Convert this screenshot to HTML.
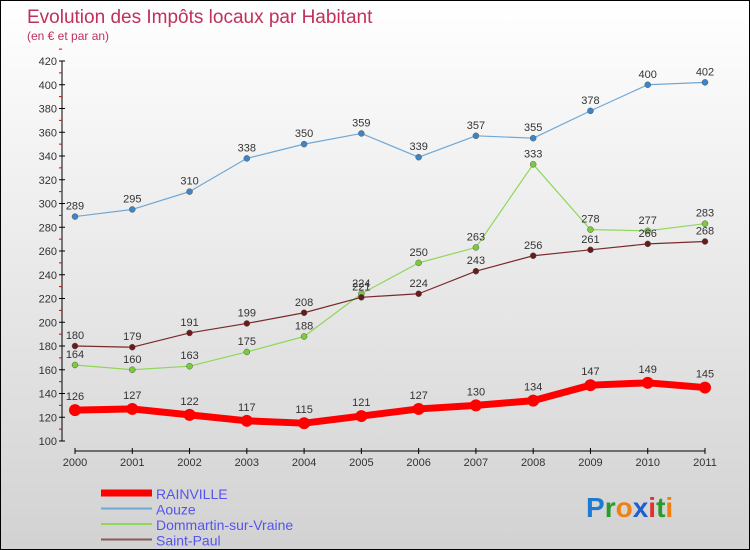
<!DOCTYPE html>
<html><head><meta charset="utf-8"><style>
body{margin:0}
#c{width:748px;height:548px;border:1px solid #000;background:linear-gradient(#fff,#d2d2d2);position:relative;font-family:"Liberation Sans",sans-serif;overflow:hidden}
</style></head><body>
<div id="c">
<svg id="s" width="748" height="548" style="position:absolute;left:0;top:0">
<text x="26" y="22" font-size="19" fill="#c0305a">Evolution des Impôts locaux par Habitant</text>
<text x="26" y="39" font-size="12" fill="#c0305a">(en € et par an)</text>
<g id="g"></g>
<text x="585" y="516" font-size="28" font-weight="bold"><tspan fill="#1e7ad0">P</tspan><tspan fill="#2a9a2a">r</tspan><tspan fill="#f08010">o</tspan><tspan fill="#1e60d0">x</tspan><tspan fill="#e03030">i</tspan><tspan fill="#2a9a2a">t</tspan><tspan fill="#f08010">i</tspan></text>
</svg>
</div>
<script>
const years=["2000","2001","2002","2003","2004","2005","2006","2007","2008","2009","2010","2011"];
const rainville=[126,127,122,117,115,121,127,130,134,147,149,145];
const aouze=[289,295,310,338,350,359,339,357,355,378,400,402];
const dommartin=[164,160,163,175,188,224,250,263,333,278,277,283];
const saintPaul=[180,179,191,199,208,221,224,243,256,261,266,268];
const yTicks=[100,120,140,160,180,200,220,240,260,280,300,320,340,360,380,400,420];
const NS="http://www.w3.org/2000/svg",g=document.getElementById('g');
const X=i=>74+i*(630/11), Y=v=>440-(v-100)*380/320;
function mk(t,a,p){const e=document.createElementNS(NS,t);for(const k in a)e.setAttribute(k,a[k]);(p||g).appendChild(e);return e;}
let ax=mk('line',{x1:61,y1:Y(420),x2:61,y2:Y(100),stroke:'#000'});


yTicks.forEach(v=>{
 let l=mk('line',{x1:58,x2:64,y1:Y(v),y2:Y(v),stroke:'#000'});
 
 
 let r=mk('line',{x1:58,x2:61,y1:Y(v+10),y2:Y(v+10),stroke:'#d00'});
 
 
 let t=mk('text',{x:56,y:Y(v)+4,'text-anchor':'end','font-size':11,fill:'#333'});t.textContent=v;
 
 
});
let xa=mk('line',{x1:74,x2:704,y1:450,y2:450,stroke:'#000'});


years.forEach((y,i)=>{
 let l=mk('line',{x1:X(i),x2:X(i),y1:447,y2:453,stroke:'#000'});
 
 
 let t=mk('text',{x:X(i),y:465,'text-anchor':'middle','font-size':11,fill:'#333'});t.textContent=y;
 
 
});
function series(d,col,dot,w,r,name){
 let p=mk('polyline',{points:d.map((v,i)=>X(i)+','+Y(v)).join(' '),fill:'none',stroke:col,'stroke-width':w,'stroke-linejoin':'round'});
 
 
 d.forEach((v,i)=>{
  let c=mk('circle',{cx:X(i),cy:Y(v),r:r,fill:dot,stroke:'#555','stroke-width':r>5?0:0.5});
  
  
  let t=mk('text',{x:X(i),y:Y(v)-(r>5?10:7),'text-anchor':'middle','font-size':11,fill:'#333'});t.textContent=v;
  
  
 });
}
series(aouze,'#6fa8d6','#3d85c6',1.2,3,'aouze');
series(dommartin,'#8fd65a','#7acc3a',1.2,3,'dommartin');
series(saintPaul,'#7a2a2a','#6a1a1a',1.2,3,'saint-paul');
series(rainville,'#f00','#f00',7,6,'rainville');
const leg=[['RAINVILLE','#f00',7],['Aouze','#6fa8d6',2],['Dommartin-sur-Vraine','#8fd65a',2],['Saint-Paul','#8a5a5a',2]];
leg.forEach((l,i)=>{
 const y=492+i*15.5;
 let ln=mk('line',{x1:100,x2:151,y1:y,y2:y,stroke:l[1],'stroke-width':l[2]});
 
 
 let t=mk('text',{x:155,y:y+6,'font-size':14,fill:'#5555ee'});t.textContent=l[0];
 
 
});
</script>
</body></html>
